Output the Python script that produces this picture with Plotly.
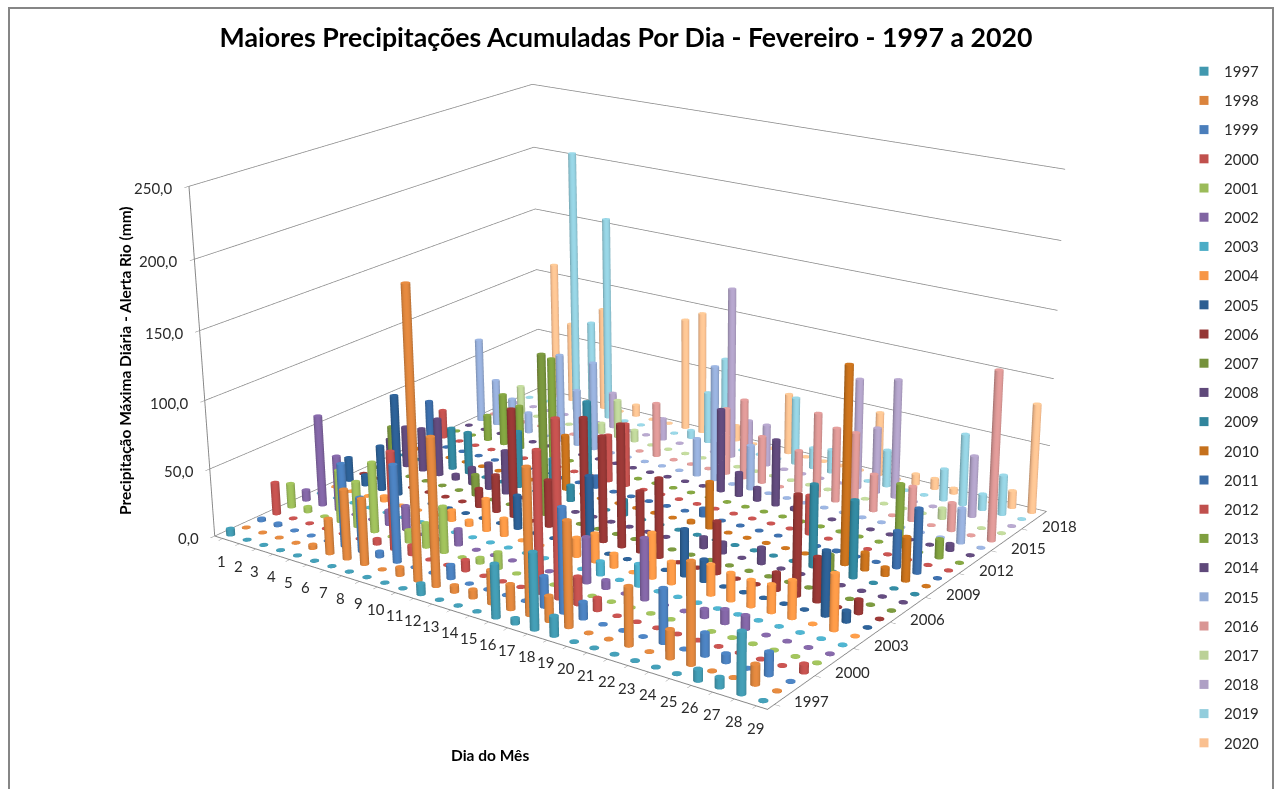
import numpy as np
import plotly.graph_objects as go

YEARS = list(range(1997, 2021))
DAYS = list(range(1, 30))
Z_TICKS = [0, 50, 100, 150, 200, 250]
Z_LABELS = ['0,0', '50,0', '100,0', '150,0', '200,0', '250,0']
Y_TICKS = [1997, 2000, 2003, 2006, 2009, 2012, 2015, 2018]

d1997 = [1,12,16,17,18,19,26,27,28];                    v1997 = [5,8,38,4,54,14,8,7,42]
d1998 = [5,6,7,8,10,11,12,13,14,15,16,17,18,19,22,24,25,28]; v1998 = [3,26,51,48,6,207,106,5,6,24,18,103,18,74,41,20,70,14]
d1999 = [1,2,6,7,8,9,12,17,18,19,23,25,26,28];          v1999 = [2,2,61,40,4,71,10,22,74,12,38,16,6,16]
d2000 = [1,7,8,9,12,16,17,18,19,29];                    v2000 = [24,4,72,7,8,101,126,20,9,6]
d2001 = [1,2,4,5,6,8,9,10,12,13];                       v2001 = [18,4,39,34,52,9,18,34,4,12]
d2002 = [1,2,3,6,7,10,17,18,20,23,24,25];               v2002 = [8,68,41,11,18,12,33,6,44,6,10,10]
d2003 = [11,17,19];                                     v2003 = [0,10,16]
d2004 = [4,8,9,10,11,15,16,17,19,20,21,22,23,24,25,26,28]; v2004 = [4,8,4,24,13,14,21,10,33,16,20,22,20,19,20,27,40]
d2005 = [1,2,3,4,11,15,20,21,27,28];                    v2005 = [18,8,34,76,25,54,34,16,46,8]
d2006 = [8,9,10,12,14,15,16,17,18,21,24,25,26,28];      v2006 = [14,28,81,35,88,78,90,45,58,38,13,72,32,10]
d2007 = [2,7,11,26];                                    v2007 = [36,16,120,28]
d2008 = [1,2,3,4,5,6,7,8,19,20,22];                     v2008 = [18,31,33,44,4,13,20,33,8,8,12]
d2009 = [4,5,8,10,11,12,14,24,26];                      v2009 = [32,32,43,29,12,79,12,60,56]
d2010 = [10,17,18,25,26,27,28];                         v2010 = [42,2,35,143,13,6,32]
d2011 = [1,11,17,22,23,24,27,28];                       v2011 = [34,9,6,23,0,1,27,47]
d2012 = [1,11,12,22];                                   v2012 = [22,36,48,29]
d2013 = [2,3,4,5,7,8,22,26,28];                         v2013 = [0,20,40,34,78,0,0,47,14]
d2014 = [1,2,3,15,16,17,18,19,20,22,23,28];             v2014 = [0,0,0,0,63,18,10,50,2,0,0,5]
d2015 = [1,2,3,4,6,7,8,14,15,17,28];                    v2015 = [66,36,24,16,69,44,69,29,88,34,26]
d2016 = [11,15,16,17,19,20,21,22,23,25,27,29];          v2016 = [42,51,61,36,32,64,56,56,28,26,21,125]
d2017 = [2,7,8,9,26];                                   v2017 = [22,8,30,9,8]
d2018 = [7,10,14,15,16,21,22,23,27];                    v2018 = [28,17,132,32,32,84,50,90,46]
d2019 = [4,5,6,11,12,13,17,18,19,22,25,26,27,28];       v2019 = [208,75,161,6,40,70,52,16,18,28,24,54,12,30]
d2020 = [1,2,3,5,7,10,11,13,16,21,23,24,25,28,29];      v2020 = [20,110,64,82,9,88,96,12,47,49,8,8,4,13,82]

SERIES = {1997:(d1997,v1997),1998:(d1998,v1998),1999:(d1999,v1999),2000:(d2000,v2000),2001:(d2001,v2001),2002:(d2002,v2002),
          2003:(d2003,v2003),2004:(d2004,v2004),2005:(d2005,v2005),2006:(d2006,v2006),2007:(d2007,v2007),2008:(d2008,v2008),
          2009:(d2009,v2009),2010:(d2010,v2010),2011:(d2011,v2011),2012:(d2012,v2012),2013:(d2013,v2013),2014:(d2014,v2014),
          2015:(d2015,v2015),2016:(d2016,v2016),2017:(d2017,v2017),2018:(d2018,v2018),2019:(d2019,v2019),2020:(d2020,v2020)}
COLORS = ['#4198AF','#DB843D','#4A7EBB','#C0504D','#9BBB59','#8064A2','#4BACC6','#F79646','#2C5E92','#953735','#76923C','#5F497A',
          '#31859C','#C5701C','#3B6CA6','#C0504D','#7F9F3F','#5F497A','#95ADD7','#D99694','#BBD197','#AFA0C5','#92CDDC','#FAC090']

ASPECT = dict(x=1.8202, y=1.4626, z=1)
EYE = dict(x=3.6502, y=-5.0418, z=2.1596)
CENTER = dict(x=0.2904, y=-0.1487, z=0)
W, H, OFF = 1382, 1996.1, 607
P = lambda y: 1 - (y + OFF) / H

R = 0.0122
SEG = 16
ang = np.arange(SEG) * 2 * np.pi / SEG
ca, sa = np.cos(ang), np.sin(ang)
rx = R / ASPECT['x'] * 29
ry = R / ASPECT['y'] * 24
view = np.arctan2(EYE['y'] - CENTER['y'], EYE['x'] - CENTER['x'])
wall_shade = 0.74 + 0.32 * np.clip(np.cos(ang - view - 0.15), 0, 1)

def shaded(hexcolor, k):
    rgb = [int(hexcolor[i:i + 2], 16) for i in (1, 3, 5)]
    return 'rgb(%d,%d,%d)' % tuple(min(255, round(c * k)) for c in rgb)

def cylinders(year, days, vals, color):
    lookup = dict(zip(days, vals))
    wall = [shaded(color, s) for s in wall_shade]
    cap = shaded(color, 1.06)
    X, Y, Z, I, J, K, C = [], [], [], [], [], [], []
    b = 0
    for dd in DAYS:
        v = max(lookup.get(dd, 0), 0.5)
        xs = list(dd + rx * ca)
        ys = list(year + ry * sa)
        X += xs + xs + xs + [dd]
        Y += ys + ys + ys + [year]
        Z += [0] * SEG + [v] * SEG + [v] * SEG + [v]
        C += wall + wall + [cap] * (SEG + 1)
        for a in range(SEG):
            c = (a + 1) % SEG
            I += [b + a, b + a, b + 2 * SEG + a]
            J += [b + c, b + SEG + c, b + 2 * SEG + c]
            K += [b + SEG + c, b + SEG + a, b + 3 * SEG]
        b += 3 * SEG + 1
    return X, Y, Z, I, J, K, C

fig = go.Figure()
for q, y in enumerate(YEARS):
    X, Y, Z, I, J, K, C = cylinders(y, *SERIES[y], COLORS[q])
    fig.add_trace(go.Mesh3d(x=X, y=Y, z=Z, i=I, j=J, k=K, vertexcolor=C, flatshading=False, showlegend=False, hoverinfo='skip',
                            lighting=dict(ambient=1, diffuse=0, specular=0, roughness=1, fresnel=0)))
    fig.add_trace(go.Scatter3d(x=[None], y=[None], z=[None], mode='markers', name=str(y), legendgroup=str(y),
                               marker=dict(symbol='square', size=9, color=COLORS[q])))

common = dict(type='linear', showbackground=False, showspikes=False, zeroline=False, title='', ticks='outside', ticklen=5, tickcolor='#868686',
              showline=True, linecolor='#868686', linewidth=2, showticklabels=False)
tick_font = dict(family='Lato', size=15, color='#2a2a2a')
labels = []
for dd in DAYS:
    labels.append(dict(x=dd, y=1996.5, z=0, text=str(dd), showarrow=False, xshift=-1, yshift=-22, font=tick_font))
for yy in Y_TICKS:
    labels.append(dict(x=29.3, y=yy, z=0, text=str(yy), showarrow=False, xshift=42, yshift=2, font=tick_font))
for zz, tt in zip(Z_TICKS, Z_LABELS):
    labels.append(dict(x=0.5, y=1996.5, z=zz, text=tt, showarrow=False, xanchor='right', xshift=-14, yshift=-2, font=tick_font))

fig.update_layout(
    width=W, height=H, margin=dict(l=0, r=0, t=0, b=0), paper_bgcolor='white', showlegend=True,
    title=dict(text='<b>Maiores Precipitações Acumuladas Por Dia - Fevereiro - 1997 a 2020</b>', x=626/W, xanchor='center',
               y=P(38), yanchor='middle', font=dict(family='Lato', size=26.7, color='#000')),
    legend=dict(x=1184/W, xanchor='left', y=P(55), yanchor='top', tracegroupgap=6.7, font=dict(family='Lato', size=15, color='#2a2a2a'),
                bgcolor='rgba(0,0,0,0)'),
    scene=dict(domain=dict(x=[0, 1], y=[0, 1]), aspectmode='manual', aspectratio=ASPECT,
               camera=dict(eye=EYE, center=CENTER, up=dict(x=0, y=0, z=1), projection=dict(type='perspective')),
               annotations=labels,
               xaxis=dict(range=[.5, 29.5], tickvals=DAYS, ticktext=[str(x) for x in DAYS], showgrid=False, **common),
               yaxis=dict(range=[1996.5, 2020.5], tickvals=Y_TICKS, ticktext=[str(x) for x in Y_TICKS], showgrid=False, **common),
               zaxis=dict(range=[0, 250], tickvals=Z_TICKS, ticktext=Z_LABELS, showgrid=True, gridcolor='#868686', gridwidth=1.5, **common)),
    annotations=[dict(text='<b>Precipitação Máxima Diária - Alerta Rio (mm)</b>', xref='paper', yref='paper', x=125/W, y=P(361),
                      xanchor='center', yanchor='middle', textangle=-90, showarrow=False, font=dict(family='Lato', size=15.5, color='#000')),
                 dict(text='<b>Dia do Mês</b>', xref='paper', yref='paper', x=490/W, y=P(755), xanchor='center', yanchor='middle', showarrow=False,
                      font=dict(family='Lato', size=15.5, color='#000'))],
    shapes=[dict(type='rect', xref='paper', yref='paper', x0=9/W, x1=1273/W, y0=P(900), y1=P(8), line=dict(color='#868686', width=2))])

post = ("var gd=document.getElementById('{plot_id}');"
        "document.documentElement.style.cssText='margin:0;overflow:hidden;height:100%';"
        "document.body.style.cssText='margin:0;overflow:hidden;height:100%';"
        "gd.style.position='absolute';gd.style.left='0';gd.style.top='-" + str(OFF) + "px';")
fig.write_html("out.html", post_script=post, config=dict(displayModeBar=False))
